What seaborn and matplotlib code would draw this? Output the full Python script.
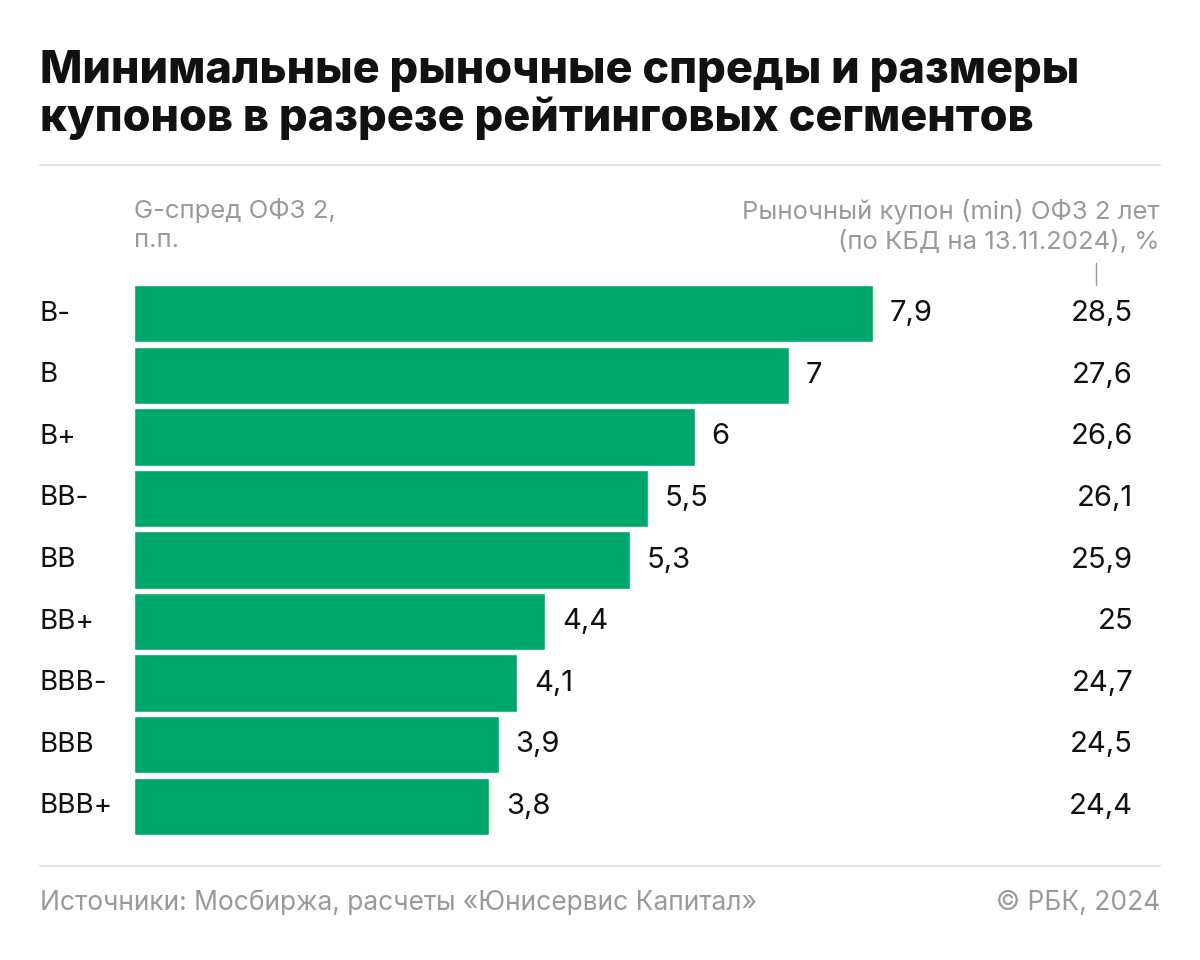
import pandas as pd
import matplotlib.pyplot as plt
import matplotlib.transforms as mtransforms
import seaborn as sns

# Data
ratings = ["B-", "B", "B+", "BB-", "BB", "BB+", "BBB-", "BBB", "BBB+"]
spread = [7.9, 7.0, 6.0, 5.5, 5.3, 4.4, 4.1, 3.9, 3.8]
coupon = [28.5, 27.6, 26.6, 26.1, 25.9, 25.0, 24.7, 24.5, 24.4]

df = pd.DataFrame({"rating": ratings, "spread": spread, "coupon": coupon})


def fmt(v):
    return f"{v:g}".replace(".", ",")


sns.set_style("white")
plt.rcParams["font.family"] = ["Inter", "Roboto", "DejaVu Sans"]

GREEN = "#00A76A"
GREY = "#9a9a9a"
LINE = "#e3e3e3"

fig = plt.figure(figsize=(12, 9.6), dpi=100)
ax = fig.add_axes([134 / 1200, 123 / 960, 1026 / 1200, 554 / 960])

sns.barplot(data=df, x="spread", y="rating", orient="h",
            color=GREEN, saturation=1, width=0.93, ax=ax)

ax.set_xlim(0, 1026 / 93.5)
ax.set_ylim(len(ratings) - 0.5, -0.5)
ax.axis("off")

# values at the bar ends
ax.bar_label(ax.containers[0], labels=[fmt(v) for v in df["spread"]],
             padding=12, fontsize=21, color="#111111")

# rating labels on the left and coupons on the right
trans = mtransforms.blended_transform_factory(fig.transFigure, ax.transData)
for i, row in df.iterrows():
    ax.text(40 / 1200, i, row["rating"], transform=trans, fontsize=20,
            va="center", ha="left", color="#111111")
    ax.text(1133 / 1200, i, fmt(row["coupon"]), transform=trans, fontsize=21,
            va="center", ha="right", color="#111111")

# title
fig.text(40 / 1200, 1 - 50 / 960,
         "Минимальные рыночные спреды и размеры\nкупонов в разрезе рейтинговых сегментов",
         fontsize=32.4, fontweight="heavy", va="top", ha="left",
         color="#111111", linespacing=1.12)

# separator lines
fig.add_artist(plt.Line2D([40 / 1200, 1160 / 1200], [1 - 165 / 960] * 2,
                          color=LINE, lw=1.5))
fig.add_artist(plt.Line2D([40 / 1200, 1160 / 1200], [1 - 866 / 960] * 2,
                          color=LINE, lw=1.5))

# column headers
fig.text(134 / 1200, 1 - 198 / 960, "G-спред ОФЗ 2,\nп.п.", fontsize=18.5,
         color=GREY, va="top", ha="left", linespacing=1.35)
fig.text(1160 / 1200, 1 - 198 / 960,
         "Рыночный купон (min) ОФЗ 2 лет\n(по КБД на 13.11.2024), %",
         fontsize=18.5, color=GREY, va="top", ha="right",
         multialignment="right", linespacing=1.35)
fig.add_artist(plt.Line2D([1096 / 1200] * 2, [1 - 263 / 960, 1 - 285 / 960],
                          color=GREY, lw=1))

# footer
fig.text(40 / 1200, 1 - 903 / 960,
         "Источники: Мосбиржа, расчеты «Юнисервис Капитал»",
         fontsize=19, color=GREY, va="center", ha="left")
fig.text(1160 / 1200, 1 - 903 / 960, "© РБК, 2024",
         fontsize=19, color=GREY, va="center", ha="right")

fig.savefig("out.png", dpi=100, facecolor="white")
